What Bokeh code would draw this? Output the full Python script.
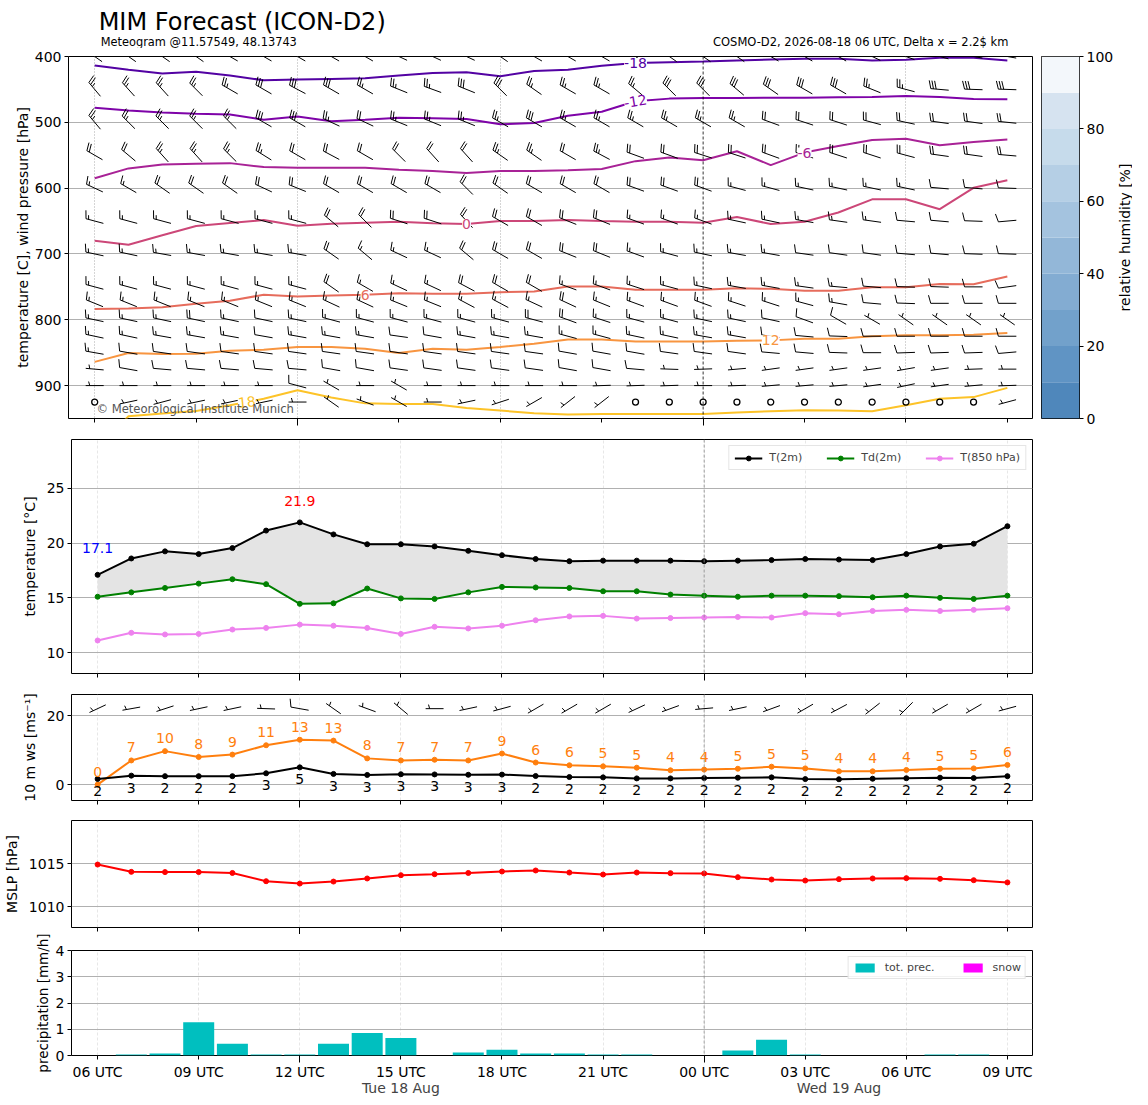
import numpy as np
from bokeh.plotting import figure
from bokeh.models import Range1d, FixedTicker, Span, LabelSet, Label, ColumnDataSource, LinearAxis, Title
from bokeh.layouts import column, row
from bokeh.embed import file_html
from bokeh.resources import INLINE
from bokeh.core.properties import value

# ---------------- data ----------------
hours = list(range(28))  # hours since 2026-08-18 06 UTC
tick_hours = [0, 3, 6, 9, 12, 15, 18, 21, 24, 27]
major_hours = [6, 18]    # 12 UTC and 00 UTC
tick_labels = ["06 UTC", "09 UTC", "12 UTC", "15 UTC", "18 UTC", "21 UTC",
               "00 UTC", "03 UTC", "06 UTC", "09 UTC"]
date_ticks = [9, 22]
date_labels = ["Tue 18 Aug", "Wed 19 Aug"]

# isotherms (pressure in hPa where T = level)
iso_levels = [-18, -12, -6, 0, 6, 12, 18]
iso_m18 = [413.6, 420, 426, 423, 429, 436, 435, 434, 433, 429, 425, 424, 430, 422,
           420, 414, 410, 408.6, 407.6, 406, 404.5, 403.5, 403.5, 406, 405, 402, 402, 406]
iso_m12 = [478, 482, 485, 487, 488, 496, 491, 498.5, 496, 493, 494, 495, 503, 501,
           490, 484, 468, 464, 463, 463, 462.6, 462.6, 462, 461.6, 460, 461.6, 464.6, 465]
iso_m6 = [585, 570, 564, 563, 562, 568, 569, 569, 569, 572, 574, 577, 574, 574,
          573, 571, 559, 553.5, 557.6, 544, 565, 546, 536, 527, 525, 535, 530, 526]
iso_0 = [680, 686, 671.7, 657.6, 653, 648.5, 657, 654, 652.5, 651, 653.5, 654.5, 650, 650,
         648.5, 650, 651, 651, 652.5, 644, 654.5, 651, 637, 617, 617, 632, 599.5, 588]
iso_6 = [783.8, 783, 780.8, 775.8, 771, 762, 764.6, 763, 762, 759.6, 760.6, 760.6, 758, 757,
         749.5, 749.5, 754.5, 754.5, 754.5, 752, 753, 756, 756, 750.5, 750.5, 745.5, 746, 734.3]
iso_12 = [864, 850.5, 852, 851.5, 847, 845.5, 841.4, 841.4, 844, 850.5, 844, 845.5, 841.4, 836.4,
          830, 830, 833, 833, 833, 832, 831.3, 828.8, 829, 825, 823.7, 823.7, 822.7, 820]
iso_18 = [1000, 946.5, 942.5, 938.5, 930, 920, 907, 918, 927, 928, 928, 934, 938, 942,
          944, 943, 943, 943, 943, 941, 939, 937.5, 938, 939, 930, 920, 917.5, 903.5]

# upper-air wind barbs: speed [kt] and direction [deg]
barb_levels = [400, 450, 500, 550, 600, 650, 700, 750, 775, 800, 825, 850, 875, 900, 925]
spd_400 = [30] * 28
dir_400 = [305, 305, 305, 305, 300, 300, 300, 300, 300, 295, 295, 295, 305, 300,
           300, 300, 305, 305, 305, 305, 300, 300, 300, 295, 290, 285, 280, 280]
spd_450 = [25, 25, 25, 25, 25, 30, 30, 30, 25, 25, 25, 30, 30, 25,
           25, 25, 25, 30, 30, 30, 30, 30, 30, 25, 25, 30, 30, 30]
dir_450 = [320, 318, 318, 315, 300, 300, 298, 300, 300, 292, 290, 292, 315, 305,
           300, 300, 310, 315, 315, 310, 305, 300, 300, 292, 285, 275, 272, 272]
spd_500 = [25, 25, 25, 25, 25, 30, 30, 25, 20, 25, 25, 25, 25, 30,
           25, 25, 25, 25, 25, 25, 20, 20, 20, 20, 20, 20, 20, 20]
dir_500 = [320, 315, 315, 315, 315, 300, 300, 295, 295, 292, 292, 292, 300, 300,
           300, 300, 300, 300, 300, 300, 290, 288, 288, 285, 282, 278, 278, 276]
spd_550 = [20, 20, 25, 25, 25, 25, 20, 20, 20, 20, 20, 20, 25, 25,
           20, 25, 20, 20, 20, 20, 20, 20, 20, 20, 20, 20, 20, 20]
dir_550 = [300, 310, 318, 318, 315, 302, 300, 298, 300, 315, 318, 318, 305, 305,
           300, 298, 290, 290, 288, 288, 290, 288, 288, 288, 285, 278, 278, 275]
spd_600 = [15, 15, 20, 20, 20, 20, 20, 20, 20, 20, 20, 20, 20, 20,
           20, 20, 20, 20, 20, 15, 15, 15, 15, 15, 15, 10, 10, 10]
dir_600 = [295, 300, 305, 305, 305, 295, 292, 300, 300, 300, 300, 315, 305, 300,
           300, 300, 290, 290, 290, 285, 285, 282, 282, 282, 282, 275, 275, 272]
spd_650 = [15, 15, 15, 15, 15, 15, 15, 20, 20, 20, 20, 20, 20, 20,
           20, 20, 15, 15, 15, 15, 15, 15, 15, 15, 10, 10, 10, 10]
dir_650 = [285, 285, 285, 285, 285, 285, 285, 310, 315, 288, 288, 318, 300, 300,
           292, 292, 290, 290, 290, 282, 282, 280, 278, 278, 275, 275, 272, 265]
spd_700 = [15, 15, 15, 15, 15, 15, 15, 20, 15, 15, 15, 20, 20, 20,
           20, 20, 15, 15, 15, 15, 15, 10, 10, 10, 10, 10, 10, 10]
dir_700 = [282, 282, 280, 280, 280, 280, 280, 305, 310, 295, 295, 310, 300, 300,
           292, 292, 290, 285, 282, 280, 280, 278, 278, 278, 275, 275, 272, 272]
spd_750 = [15, 15, 15, 15, 15, 15, 15, 20, 15, 15, 15, 20, 20, 20,
           15, 15, 15, 15, 15, 15, 15, 15, 15, 10, 10, 10, 10, 10]
dir_750 = [285, 285, 285, 285, 285, 285, 285, 305, 300, 295, 295, 298, 300, 300,
           290, 290, 288, 285, 282, 280, 280, 278, 275, 275, 272, 272, 270, 262]
spd_775 = [15, 15, 15, 15, 15, 15, 15, 15, 15, 15, 15, 15, 15, 15,
           20, 15, 15, 15, 15, 15, 15, 15, 15, 10, 10, 10, 10, 10]
dir_775 = [292, 292, 292, 292, 292, 292, 292, 295, 295, 292, 292, 298, 298, 295,
           295, 292, 290, 290, 290, 288, 288, 285, 280, 275, 272, 270, 270, 270]
spd_800 = [15, 15, 15, 20, 15, 10, 15, 15, 15, 15, 15, 15, 15, 20,
           20, 15, 15, 15, 15, 15, 10, 10, 10, 5, 5, 5, 5, 5]
dir_800 = [282, 282, 282, 282, 282, 282, 282, 285, 285, 285, 285, 285, 285, 285,
           290, 288, 285, 285, 282, 282, 282, 290, 300, 300, 305, 305, 305, 305]
spd_825 = [15, 15, 15, 15, 15, 10, 15, 15, 15, 10, 10, 15, 15, 15,
           15, 15, 15, 15, 15, 15, 10, 10, 10, 10, 10, 10, 10, 10]
dir_825 = [282, 282, 280, 280, 280, 280, 280, 280, 280, 278, 280, 280, 280, 280,
           285, 285, 282, 282, 280, 280, 278, 275, 272, 270, 270, 270, 270, 270]
spd_850 = [15, 10, 10, 10, 10, 10, 10, 10, 10, 10, 10, 10, 10, 10,
           10, 10, 10, 10, 10, 10, 10, 10, 10, 10, 10, 10, 10, 10]
dir_850 = [280, 280, 278, 278, 278, 278, 278, 278, 278, 278, 278, 278, 278, 278,
           280, 280, 280, 278, 278, 278, 275, 275, 272, 270, 268, 268, 268, 265]
spd_875 = [5, 10, 10, 10, 10, 10, 10, 10, 10, 10, 10, 10, 10, 10,
           10, 10, 10, 5, 5, 5, 5, 5, 5, 5, 5, 5, 5, 5]
dir_875 = [275, 280, 275, 275, 275, 275, 275, 280, 280, 278, 278, 278, 278, 278,
           280, 280, 275, 272, 268, 265, 262, 262, 262, 262, 260, 262, 268, 270]
spd_900 = [5, 5, 5, 5, 5, 5, 10, 5, 5, 5, 5, 5, 5, 5,
           5, 5, 5, 5, 5, 5, 5, 5, 5, 5, 5, 5, 5, 5]
dir_900 = [270, 270, 270, 270, 270, 270, 285, 300, 270, 300, 270, 270, 270, 270,
           270, 268, 268, 268, 270, 268, 265, 265, 265, 262, 258, 262, 265, 268]
spd_925 = [0, 5, 5, 5, 5, 5, 5, 5, 5, 5, 5, 5, 5, 5,
           5, 5, 0, 0, 0, 0, 0, 0, 0, 0, 0, 0, 0, 5]
dir_925 = [270, 258, 255, 258, 258, 258, 270, 305, 290, 300, 270, 258, 252, 240,
           232, 232, 270, 270, 270, 270, 270, 270, 270, 270, 270, 270, 270, 255]

rh_levels = [0, 10, 20, 30, 40, 50, 60, 70, 80, 90, 100]
rh_ticks = [0, 20, 40, 60, 80, 100]

# near-surface temperatures [deg C]
t2m = [17.1, 18.6, 19.25, 19.0, 19.55, 21.15, 21.9, 20.8, 19.9, 19.9, 19.7, 19.3, 18.9, 18.55,
       18.35, 18.4, 18.4, 18.4, 18.35, 18.4, 18.45, 18.55, 18.5, 18.45, 19.0, 19.7, 19.95, 21.55]
td2m = [15.1, 15.5, 15.9, 16.3, 16.7, 16.25, 14.45, 14.5, 15.85, 14.95, 14.9, 15.5, 16.0, 15.95,
        15.9, 15.6, 15.6, 15.3, 15.2, 15.1, 15.2, 15.2, 15.15, 15.05, 15.2, 15.0, 14.9, 15.2]
t850 = [11.1, 11.8, 11.65, 11.7, 12.1, 12.25, 12.55, 12.45, 12.25, 11.7, 12.35, 12.2, 12.45, 12.95,
        13.3, 13.35, 13.1, 13.15, 13.2, 13.25, 13.2, 13.6, 13.5, 13.8, 13.9, 13.8, 13.9, 14.05]

# 10 m wind [m/s]
ws10 = [1.64, 2.6, 2.45, 2.45, 2.45, 3.28, 5.0, 3.1, 2.8, 3.0, 2.95, 2.85, 2.9, 2.5,
        2.2, 2.1, 1.8, 1.8, 1.9, 2.0, 2.1, 1.6, 1.55, 1.7, 1.85, 2.0, 1.9, 2.45]
gust10 = [0.0, 7.0, 9.7, 8.0, 8.7, 11.4, 13.0, 12.75, 7.6, 7.0, 7.2, 7.0, 9.0, 6.4,
          5.6, 5.3, 4.9, 4.15, 4.35, 4.6, 5.2, 4.7, 3.86, 3.86, 4.25, 4.6, 4.7, 5.7]
dir10 = [245, 260, 252, 258, 258, 272, 280, 305, 290, 310, 270, 258, 255, 240,
         240, 240, 245, 250, 265, 258, 250, 240, 242, 232, 225, 240, 240, 255]

# mean sea level pressure [hPa]
mslp = [1014.88, 1014.03, 1014.0, 1014.0, 1013.9, 1012.94, 1012.67, 1012.9, 1013.26, 1013.64,
        1013.76, 1013.9, 1014.07, 1014.19, 1013.95, 1013.72, 1013.95, 1013.88, 1013.84, 1013.41,
        1013.14, 1013.02, 1013.18, 1013.26, 1013.3, 1013.22, 1013.06, 1012.8]

# precipitation [mm/h]
precip = [0.0, 0.04, 0.075, 1.27, 0.45, 0.04, 0.04, 0.45, 0.86, 0.67, 0.0, 0.11, 0.22, 0.075,
          0.075, 0.04, 0.04, 0.0, 0.0, 0.19, 0.6, 0.04, 0.0, 0.0, 0.0, 0.04, 0.04, 0.0]
snow = [0.0] * 28

# ---------------- styling / layout ----------------
FONT = "DejaVu Sans"
X0, X1 = -0.775, 27.744
FIG_W, BL, BR = 1036, 68, 4
FW = FIG_W - BL - BR       # frame width in px
PPX = FW / (X1 - X0)       # px per hour
ISO_COLORS = ["#5302a3", "#7e03a8", "#a82296", "#cc4778", "#e66c5c", "#f89540", "#fdc328"]
RH_COLORS = ["#4f87bb", "#6094c4", "#72a1cb", "#83acd2", "#93b7d8", "#a4c3df",
             "#b5cfe5", "#c6dbeb", "#d6e3f0", "#f3f7fb"]


def style_axes(p):
    for ax in p.axis:
        ax.axis_line_color = None
        ax.major_tick_out = 4
        ax.major_tick_in = 0
        ax.minor_tick_out = 0
        ax.minor_tick_in = 0
        ax.major_tick_line_color = "black"
        ax.minor_tick_line_color = "black"
        ax.major_label_text_font = FONT
        ax.major_label_text_font_size = "14px"
        ax.major_label_text_color = "black"
        ax.axis_label_text_font = FONT
        ax.axis_label_text_font_size = "14px"
        ax.axis_label_text_font_style = "normal"
        ax.axis_label_text_color = "black"
        ax.major_label_standoff = 3
        ax.axis_label_standoff = 6


def bare_fig(width, height, xr, yr, left=0, right=0, top=0, bottom=0):
    p = figure(width=width, height=height, x_range=xr, y_range=yr,
               output_backend="svg", toolbar_location=None,
               x_axis_location=None, y_axis_location=None,
               min_border_left=left, min_border_right=right,
               min_border_top=top, min_border_bottom=bottom)
    p.outline_line_color = None
    p.grid.visible = False
    p.background_fill_color = "white"
    p.border_fill_color = "white"
    return p


def make_fig(height, top, bottom, yr, yticks, ylabel, xgrid_ticks, show_x=False):
    p = figure(width=FIG_W, height=height, x_range=Range1d(X0, X1), y_range=yr,
               output_backend="svg", toolbar_location=None,
               min_border_left=BL, min_border_right=BR,
               min_border_top=top, min_border_bottom=bottom)
    p.outline_line_color = "black"
    p.outline_line_width = 1
    p.outline_line_alpha = 1
    p.background_fill_color = "white"
    p.border_fill_color = "white"
    style_axes(p)
    p.xaxis.ticker = FixedTicker(ticks=tick_hours, minor_ticks=major_hours)
    p.xaxis.minor_tick_out = 7
    if show_x:
        p.xaxis.major_label_overrides = {h: s for h, s in zip(tick_hours, tick_labels)}
        p.xaxis.major_label_standoff = 1
    else:
        p.xaxis.major_label_overrides = {h: "" for h in tick_hours}
        p.xaxis.major_label_standoff = 0
    p.yaxis.ticker = FixedTicker(ticks=yticks)
    if ylabel:
        p.yaxis.axis_label = ylabel
    p.ygrid.ticker = FixedTicker(ticks=yticks)
    p.ygrid.grid_line_color = "#b0b0b0"
    p.ygrid.grid_line_width = 1
    p.xgrid.ticker = FixedTicker(ticks=xgrid_ticks)
    p.xgrid.grid_line_color = "#dddddd"
    p.xgrid.grid_line_dash = "3 2"
    p.xgrid.grid_line_width = 0.7
    return p


def make_barbs(xc, yc, spd, drc, ppx, ppy, L=18.0):
    H, W, SP = 0.45 * L, 0.25 * L, 0.15 * L
    xs, ys, cx, cy = [], [], [], []
    for x0, y0, s, d in zip(xc, yc, spd, drc):
        r = int(5 * round(s / 5.0))
        if r == 0:
            cx.append(x0)
            cy.append(y0)
            continue
        a = np.deg2rad(d)
        ux, uy = np.sin(a), np.cos(a)
        fx, fy = uy, -ux
        tx, ty = -ux * L / 2, -uy * L / 2

        def S(t):
            return tx + ux * t, ty + uy * t

        def seg(p1, p2):
            xs.append([x0 + p1[0] / ppx, x0 + p2[0] / ppx])
            ys.append([y0 + p1[1] / ppy, y0 + p2[1] / ppy])

        seg(S(0), S(L))
        nflag = r // 50
        rem = r - 50 * nflag
        nfull = rem // 10
        half = (rem - 10 * nfull) >= 5
        pos = L
        for _ in range(nflag):
            b = S(pos)
            e = (b[0] + fx * H - ux * W / 2, b[1] + fy * H - uy * W / 2)
            seg(b, e)
            seg(e, S(pos - W))
            pos -= W + SP
        for _ in range(nfull):
            b = S(pos)
            e = (b[0] + fx * H + ux * W / 2, b[1] + fy * H + uy * W / 2)
            seg(b, e)
            pos -= SP
        if half:
            if nflag == 0 and nfull == 0:
                pos -= 1.5 * SP
            b = S(pos)
            e = (b[0] + fx * H / 2 + ux * W / 4, b[1] + fy * H / 2 + uy * W / 4)
            seg(b, e)
    return xs, ys, cx, cy


def add_midnight(p, color="#888888"):
    p.add_layout(Span(location=18, dimension="height", line_color=color,
                      line_dash="3 2", line_width=0.8))


# ================= header with titles =================
HDR_H = 48
hdr = bare_fig(FIG_W, HDR_H, Range1d(X0, X1), Range1d(HDR_H, 0), left=BL, right=BR)
hdr.text(x=[0.03], y=[21], text=["MIM Forecast (ICON-D2)"], text_font=value(FONT),
         text_font_size="24px", text_color="black", text_align="left", text_baseline="middle")
hdr.text(x=[0.09], y=[41], text=["Meteogram @11.57549, 48.13743"], text_font=value(FONT),
         text_font_size="11.4px", text_color="black", text_align="left", text_baseline="middle")
hdr.text(x=[27.03], y=[41], text=["COSMO-D2, 2026-08-18 06 UTC, Delta x = 2.2$ km"],
         text_font=value(FONT), text_font_size="11.5px", text_color="black",
         text_align="right", text_baseline="middle")

# ================= top panel: isotherms + wind barbs =================
TOP_H_FRAME = 362
p1 = make_fig(380, 8, 10, Range1d(950, 400), [400, 500, 600, 700, 800, 900],
              "temperature [C], wind pressure [hPa]", [0, 6, 12, 24])
p1.yaxis.axis_label_standoff = 1
p1.xgrid.grid_line_color = "#aaaaaa"
p1.xgrid.grid_line_dash = "1 2"
p1.xgrid.grid_line_width = 1
add_midnight(p1, "black")

iso_series = [iso_m18, iso_m12, iso_m6, iso_0, iso_6, iso_12, iso_18]
for lev, ser, col in zip(iso_levels, iso_series, ISO_COLORS):
    p1.line(hours, ser, line_color=col, line_width=2)

ppy_top = -TOP_H_FRAME / 550.0
spd_all = [spd_400, spd_450, spd_500, spd_550, spd_600, spd_650, spd_700, spd_750,
           spd_775, spd_800, spd_825, spd_850, spd_875, spd_900, spd_925]
dir_all = [dir_400, dir_450, dir_500, dir_550, dir_600, dir_650, dir_700, dir_750,
           dir_775, dir_800, dir_825, dir_850, dir_875, dir_900, dir_925]
bx, by, bcx, bcy = [], [], [], []
for lev, sp, dr in zip(barb_levels, spd_all, dir_all):
    xs_, ys_, cx_, cy_ = make_barbs(hours, [lev] * len(hours), sp, dr, PPX, ppy_top)
    bx += xs_
    by += ys_
    bcx += cx_
    bcy += cy_
p1.multi_line(bx, by, line_color="black", line_width=1)
p1.scatter(bcx, bcy, marker="circle", size=6, fill_color=None, line_color="black", line_width=1.3)

# contour labels
lab_hours = [16, 16, 21, 11, 8, 20, 4.5]
lab_angles = [0.0, 0.17, 0.0, 0.0, 0.0, 0.0, 0.1]
lab_y = [float(np.interp(h, hours, s)) for h, s in zip(lab_hours, iso_series)]
iso_src = ColumnDataSource(dict(x=lab_hours, y=lab_y, text=[str(v) for v in iso_levels],
                                color=ISO_COLORS, angle=lab_angles))
p1.add_layout(LabelSet(x="x", y="y", text="text", source=iso_src, text_color="color",
                       angle="angle", text_align="center", text_baseline="middle",
                       text_font=value(FONT), text_font_size="14px",
                       background_fill_color="white", background_fill_alpha=1.0))

p1.add_layout(Label(x=0.05, y=936, text="© Meteorological Institute Munich", text_font=FONT,
                    text_font_size="11.6px", text_color="#555555", text_baseline="middle",
                    text_align="left"))

# colour bar
pc = figure(width=80, height=380, x_range=Range1d(0, 1), y_range=Range1d(0, 100),
            output_backend="svg", toolbar_location=None, y_axis_location="right",
            x_axis_location=None, min_border_left=5, min_border_right=33,
            min_border_top=8, min_border_bottom=10)
pc.outline_line_color = "black"
pc.outline_line_width = 1
pc.grid.visible = False
pc.background_fill_color = "white"
pc.border_fill_color = "white"
pc.quad(left=0, right=1, bottom=rh_levels[:-1], top=rh_levels[1:], fill_color=RH_COLORS,
        line_color=None)
style_axes(pc)
pc.yaxis.ticker = FixedTicker(ticks=rh_ticks)

# colour bar title (reads bottom-to-top)
pl = bare_fig(16, 380, Range1d(0, 16), Range1d(950, 400), top=8, bottom=10)
pl.text(x=[8.5], y=[675], text=["relative humidity [%]"], text_font=value(FONT),
        text_font_size="14px", text_color="black", text_align="center",
        text_baseline="middle", angle=np.pi / 2)

# ================= temperature panel =================
p2 = make_fig(255, 11, 10, Range1d(8.08, 29.48), [10, 15, 20, 25],
              "temperature [°C]", tick_hours)
add_midnight(p2)
p2.varea(x=hours, y1=td2m, y2=t2m, fill_color="#e4e4e4")
for ser, col, lab in [(t2m, "black", "T(2m)"), (td2m, "green", "Td(2m)"),
                      (t850, "violet", "T(850 hPa)")]:
    p2.line(hours, ser, line_color=col, line_width=2, legend_label=lab)
    p2.scatter(hours, ser, marker="circle", size=5, fill_color=col, line_color=col,
               legend_label=lab)
imin = int(np.argmin(t2m))
imax = int(np.argmax(t2m))
p2.add_layout(Label(x=hours[imin], y=t2m[imin], y_offset=27, text=f"{t2m[imin]:.1f}",
                    text_color="blue", text_font=FONT, text_font_size="14px",
                    text_align="center", text_baseline="middle"))
p2.add_layout(Label(x=hours[imax], y=t2m[imax], y_offset=21, text=f"{t2m[imax]:.1f}",
                    text_color="red", text_font=FONT, text_font_size="14px",
                    text_align="center", text_baseline="middle"))
lg = p2.legend[0]
lg.orientation = "horizontal"
lg.location = "top_right"
lg.margin = 6
lg.padding = 5
lg.spacing = 24
lg.label_text_font = FONT
lg.label_text_font_size = "11px"
lg.label_height = 12
lg.glyph_height = 12
lg.glyph_width = 28
lg.label_standoff = 7
lg.border_line_color = "#cccccc"
lg.background_fill_alpha = 0.85

# ================= 10 m wind panel =================
WIND_H_FRAME = 106
p3 = make_fig(127, 11, 10, Range1d(-4.6, 26.1), [0, 20], "10 m ws [ms⁻¹]", tick_hours)
add_midnight(p3)
p3.line(hours, gust10, line_color="#ff7f0e", line_width=2)
p3.scatter(hours, gust10, marker="circle", size=5, fill_color="#ff7f0e", line_color="#ff7f0e")
p3.line(hours, ws10, line_color="black", line_width=2)
p3.scatter(hours, ws10, marker="circle", size=5, fill_color="black", line_color="black")
g_src = ColumnDataSource(dict(x=hours, y=gust10, t=[str(int(round(v))) for v in gust10]))
w_src = ColumnDataSource(dict(x=hours, y=ws10, t=[str(int(round(v))) for v in ws10]))
p3.add_layout(LabelSet(x="x", y="y", text="t", source=g_src, y_offset=13, text_color="#ff7f0e",
                       text_font=value(FONT), text_font_size="14px", text_align="center",
                       text_baseline="middle"))
p3.add_layout(LabelSet(x="x", y="y", text="t", source=w_src, y_offset=-12, text_color="black",
                       text_font=value(FONT), text_font_size="14px", text_align="center",
                       text_baseline="middle"))
ppy_w = WIND_H_FRAME / (26.1 + 4.6)
kt10 = [v * 1.944 for v in ws10]
wx, wy, wcx, wcy = make_barbs(hours, [22.0] * len(hours), kt10, dir10, PPX, ppy_w)
p3.multi_line(wx, wy, line_color="black", line_width=1)
if wcx:
    p3.scatter(wcx, wcy, marker="circle", size=6, fill_color=None, line_color="black")

# ================= MSLP panel =================
p4 = make_fig(124, 10, 7, Range1d(1007.56, 1020.0), [1010, 1015], "MSLP [hPa]", tick_hours)
add_midnight(p4)
p4.line(hours, mslp, line_color="red", line_width=2)
p4.scatter(hours, mslp, marker="circle", size=5, fill_color="red", line_color="red")

# ================= precipitation panel =================
p5 = make_fig(164, 16, 41, Range1d(0, 4), [0, 1, 2, 3, 4], None, tick_hours, show_x=True)
add_midnight(p5)
p5.add_layout(Title(text="precipitation [mm/h]", align="center", text_font=FONT,
                    text_font_size="13.5px", text_font_style="normal", text_color="black",
                    standoff=4), "left")
p5.vbar(x=hours, top=precip, width=0.92, fill_color="#00bfbf", line_color=None,
        legend_label="tot. prec.")
p5.vbar(x=hours, top=snow, width=0.92, fill_color="magenta", line_color=None,
        legend_label="snow")
date_ax = LinearAxis(ticker=FixedTicker(ticks=date_ticks),
                     major_label_overrides={h: s for h, s in zip(date_ticks, date_labels)})
p5.add_layout(date_ax, "below")
date_ax.axis_line_color = None
date_ax.major_tick_out = 0
date_ax.major_tick_in = 0
date_ax.minor_tick_out = 0
date_ax.minor_tick_in = 0
date_ax.major_label_standoff = -3
date_ax.major_label_text_font = FONT
date_ax.major_label_text_font_size = "14px"
lg5 = p5.legend[0]
lg5.orientation = "horizontal"
lg5.location = "top_right"
lg5.margin = 6
lg5.padding = 4
lg5.spacing = 26
lg5.label_text_font = FONT
lg5.label_text_font_size = "11px"
lg5.label_height = 12
lg5.glyph_height = 11
lg5.glyph_width = 24
lg5.label_standoff = 8
lg5.border_line_color = "#cccccc"
lg5.background_fill_alpha = 0.85

layout = column(hdr, row(p1, pc, pl), p2, p3, p4, p5)
open("out.html", "w").write(file_html(layout, INLINE))
